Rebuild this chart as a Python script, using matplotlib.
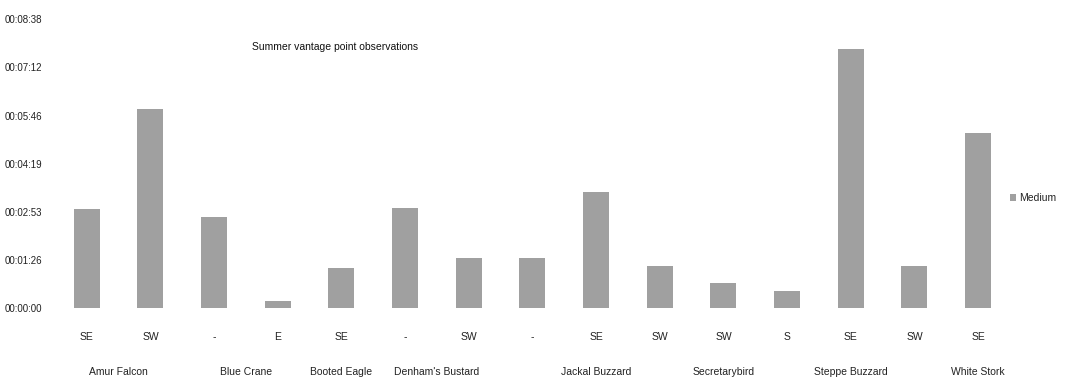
import matplotlib.pyplot as plt
from matplotlib.ticker import FuncFormatter, MultipleLocator
from matplotlib.transforms import blended_transform_factory

# Виды и направления пролёта
species = ["Amur Falcon", "Blue Crane", "Booted Eagle", "Denham's Bustard",
           "Jackal Buzzard", "Secretarybird", "Steppe Buzzard", "White Stork"]
directions = [["SE", "SW"], ["-", "E"], ["SE"], ["-", "SW"],
              ["-", "SE", "SW"], ["SW"], ["S", "SE", "SW"], ["SE"]]

# Средняя длительность наблюдения, секунды
medium_sec = [178, 358, 164, 13, 73, 179, 90, 90, 209, 75, 45, 31, 465, 75, 315]

plt.rcParams['font.family'] = ['Liberation Sans', 'DejaVu Sans']

# Время в долях суток, как в Excel
medium = [s / 86400 for s in medium_sec]
sub_labels = [d for group in directions for d in group]
x = list(range(len(sub_labels)))


def fmt_time(v, pos):
    s = int(round(v * 86400))
    return "%02d:%02d:%02d" % (s // 3600, s // 60 % 60, s % 60)


fig = plt.figure(figsize=(10.67, 3.83), dpi=100)
ax = fig.add_axes([0.0515, 0.195, 0.895, 0.755])

ax.bar(x, medium, width=0.41, color='#a0a0a0', label='Medium')

ax.set_xlim(-0.5, len(x) - 0.5)
ax.set_ylim(0, 0.006)
ax.yaxis.set_major_locator(MultipleLocator(0.001))
ax.yaxis.set_major_formatter(FuncFormatter(fmt_time))
ax.set_xticks(x)
ax.set_xticklabels(sub_labels)
ax.tick_params(axis='y', length=0, labelsize=7, pad=9, colors='#222222')
ax.tick_params(axis='x', length=0, labelsize=7.5, pad=17, colors='#222222')
for sp in ax.spines.values():
    sp.set_visible(False)

# Подписи видов по центру своей группы
trans = blended_transform_factory(ax.transData, ax.transAxes)
start = 0
for name, group in zip(species, directions):
    center = start + (len(group) - 1) / 2
    ax.text(center, -0.22, name, transform=trans, ha='center', va='center',
            fontsize=7.5, color='#222222')
    start += len(group)

ax.text(0.293, 0.905, "Summer vantage point observations", transform=ax.transAxes,
        ha='center', va='center', fontsize=7.5, color='#111111')

ax.legend(loc='center left', bbox_to_anchor=(0.99, 0.38), frameon=False,
          fontsize=7.5, handlelength=0.6, handleheight=0.6, handletextpad=0.3,
          labelcolor='#222222')

plt.savefig('out.png', dpi=100)
